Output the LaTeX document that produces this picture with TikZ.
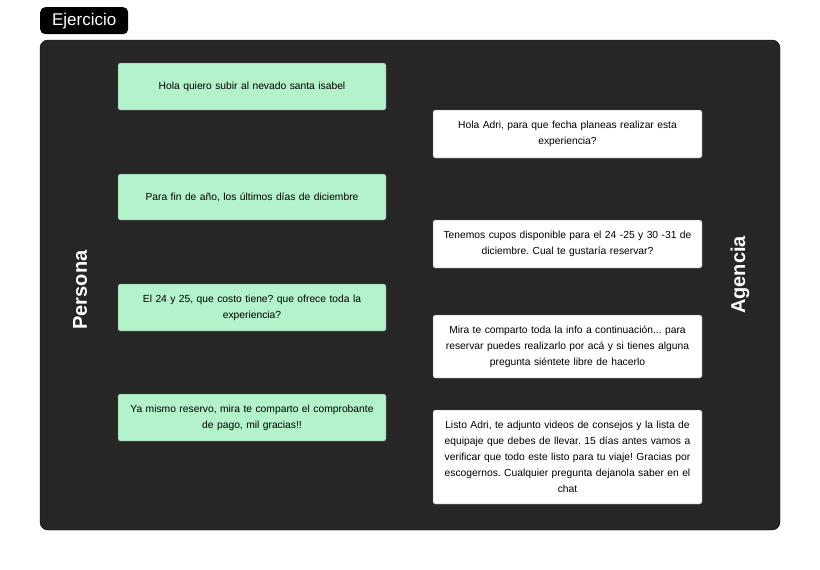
\documentclass[tikz,border=0pt]{standalone}
\usepackage{fontspec}
\setmainfont{Liberation Sans}
\definecolor{panel}{HTML}{262626}
\definecolor{msggreen}{HTML}{B3F2CA}
\frenchspacing
\begin{document}
\begin{tikzpicture}[x=1pt,y=-1pt,
  msg/.style={draw=black!60,rounded corners=2pt,font=\fontsize{10.3}{16}\selectfont,align=center,inner sep=2pt},
  lmsg/.style={msg,fill=msggreen},
  rmsg/.style={msg,fill=white},
  side/.style={text=white,font=\bfseries\fontsize{20}{24}\selectfont}]
\useasboundingbox (0,0) rectangle (820,570);
\fill[white] (0,0) rectangle (820,570);
\node[fill=black,rounded corners=5pt,minimum width=88pt,minimum height=27pt,text=white,font=\fontsize{17}{18}\selectfont,anchor=north west,inner sep=0pt] (title) at (40,7) {Ejercicio};
\draw[fill=panel,draw=black,rounded corners=8pt] (40,40) rectangle (780,530);
\node[side,rotate=90] (persona) at (80,290) {Persona};
\node[side,rotate=90] (agencia) at (740,275) {Agencia};
% left
\node[lmsg,minimum width=268pt,minimum height=47pt,text width=255pt] (l1) at (252,86.5) {Hola quiero subir al nevado santa isabel};
\node[lmsg,minimum width=268pt,minimum height=46pt,text width=255pt] (l2) at (252,197) {Para fin de año, los últimos días de diciembre};
\node[lmsg,minimum width=268pt,minimum height=47pt,text width=255pt] (l3) at (252,307.5) {El 24 y 25, que costo tiene? que ofrece toda la\\experiencia?};
\node[lmsg,minimum width=268pt,minimum height=47pt,text width=255pt] (l4) at (252,417.5) {Ya mismo reservo, mira te comparto el comprobante\\de pago, mil gracias!!};
% right
\node[rmsg,minimum width=269pt,minimum height=48pt,text width=255pt] (r1) at (567.5,134) {Hola Adri, para que fecha planeas realizar esta\\experiencia?};
\node[rmsg,minimum width=269pt,minimum height=48pt,text width=255pt] (r2) at (567.5,244) {Tenemos cupos disponible para el 24 -25 y 30 -31 de\\diciembre. Cual te gustaría reservar?};
\node[rmsg,minimum width=269pt,minimum height=63pt,text width=255pt] (r3) at (567.5,346.5) {Mira te comparto toda la info a continuación... para\\reservar puedes realizarlo por acá y si tienes alguna\\pregunta siéntete libre de hacerlo};
\node[rmsg,minimum width=269pt,minimum height=94pt,text width=255pt] (r4) at (567.5,457) {Listo Adri, te adjunto videos de consejos y la lista de\\equipaje que debes de llevar. 15 días antes vamos a\\verificar que todo este listo para tu viaje! Gracias por\\escogernos. Cualquier pregunta dejanola saber en el\\chat};
\end{tikzpicture}
\end{document}
